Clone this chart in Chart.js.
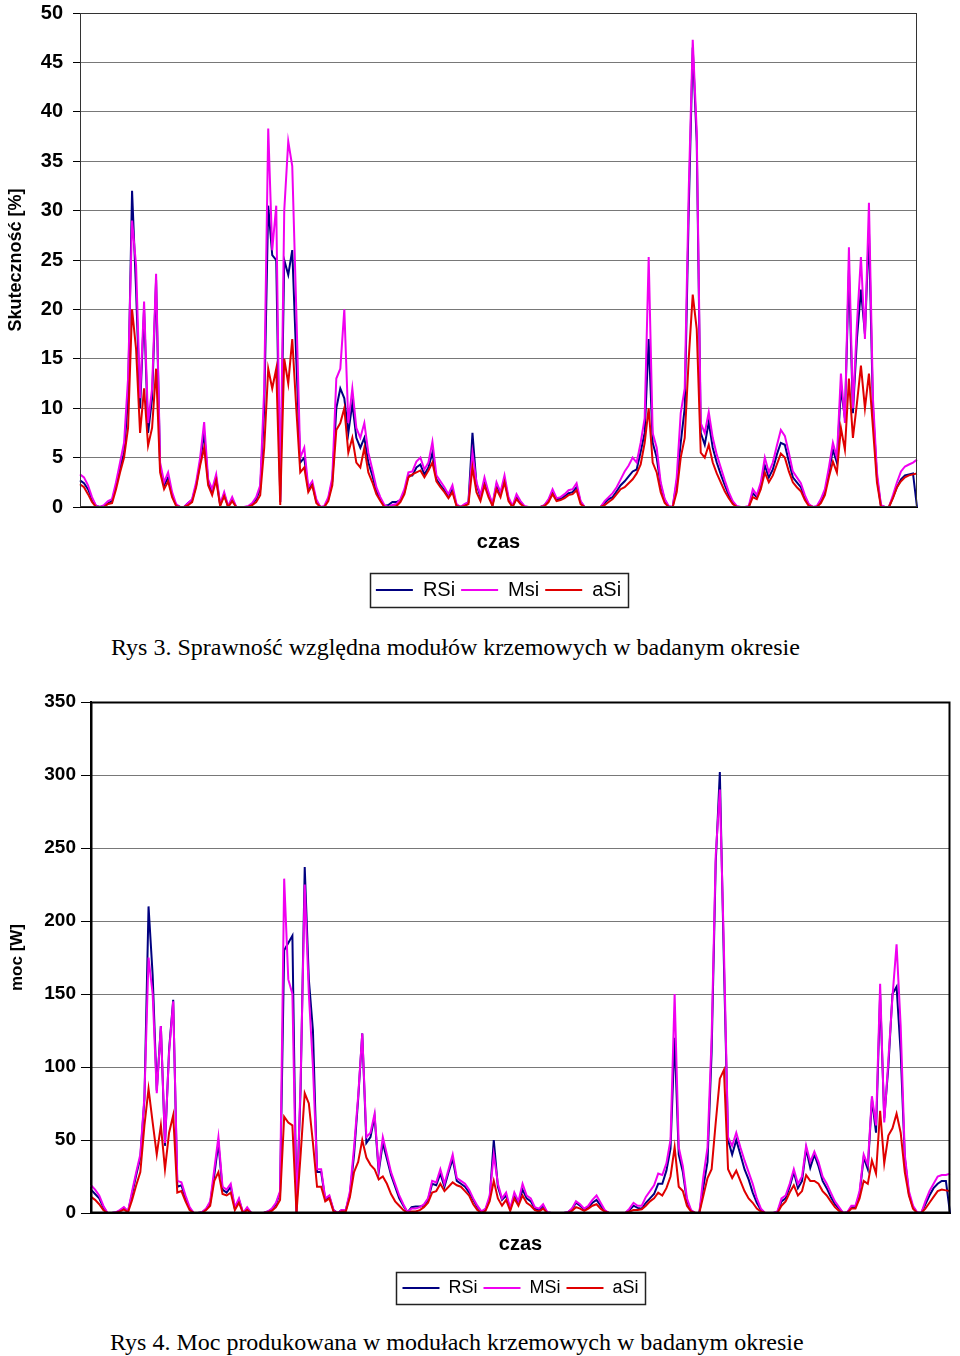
<!DOCTYPE html>
<html>
<head>
  <title>Rys 3 / Rys 4</title>
  <script src="https://cdn.jsdelivr.net/npm/chart.js"></script>
  <style>
    html, body { margin: 0; padding: 0; background: #fff; width: 960px; height: 1356px; overflow: hidden; }
    canvas { position: absolute; left: 0; }
    #c1 { top: 0; }
    #c2 { top: 680px; }
    .cap { position: absolute; font-family: "Liberation Serif", "Times New Roman", serif; font-size: 24px;
           line-height: 28px; color: #000; white-space: nowrap; }
  </style>
</head>
<body>

<canvas id="c1" width="960" height="610"></canvas>
<div class="cap" style="left:111px; top:633px;">Rys 3. Sprawność względna modułów krzemowych w badanym okresie</div>

<canvas id="c2" width="960" height="627"></canvas>
<div class="cap" style="left:110px; top:1328px;">Rys 4. Moc produkowana w modułach krzemowych w badanym okresie</div>

<script>
// Rys 3 - skutecznosc [%]
const topRSi = [2.7,2.4,1.8,0.8,0.1,0,0.1,0.4,0.6,2.2,
  4.0,5.5,11,32,22,10,20,7.5,11,23,
  4,2.2,3.0,1.2,0.2,0,0,0.4,0.7,2.2,
  4.5,7.5,2.5,1.5,3.0,0.2,1.3,0,0.8,0,
  0,0,0,0.3,0.8,1.8,10,30.5,25.5,25,
  0.5,25,23.5,26,15,4.5,5,1.8,2.3,0.6,
  0,0,0.8,2.6,10,12,11,7.5,10.5,7,
  6,7,4.5,3.2,1.6,0.8,0.1,0.2,0.5,0.5,
  0.7,1.5,3.2,3.2,4.0,4.3,3.3,4.0,5.5,2.8,
  2.2,1.7,1.0,1.8,0.2,0,0.2,0.5,7.5,2.3,
  1.0,2.6,1.3,0.2,2.2,1.3,2.8,0.8,0,1.0,
  0.5,0,0,0,0,0,0.2,0.7,1.5,0.8,
  0.8,1.1,1.4,1.5,2.0,0.5,0,0,0,0,
  0,0.4,0.8,1.0,1.6,2.2,2.6,3.1,3.6,3.8,
  5.6,7.5,17,6.5,5.0,2.2,0.7,0,0,2.5,
  6.5,10,30,46.5,37,7.5,6.3,8.6,6.0,4.5,
  3.3,2.2,1.2,0.5,0,0,0,0,1.4,1.0,
  2.2,4.2,3.0,3.8,5.3,6.5,6.3,4.6,3.0,2.5,
  2.0,1.0,0.2,0,0,0.6,1.5,3.5,5.8,4.5,
  12,9.0,24,9.5,17,22,17.5,28,10,3.0,
  0.1,0,0,1.0,2.0,2.8,3.2,3.3,3.4,0];

const topMsi = [3.3,3.0,2.2,1.0,0.1,0,0.2,0.6,0.8,2.5,
  4.5,6.5,13,29,24.5,11,20.8,8.5,12,23.6,
  4.5,2.5,3.5,1.5,0.3,0,0,0.4,0.8,2.5,
  5,8.6,2.8,1.8,3.3,0.3,1.5,0.1,1.0,0,
  0,0,0.1,0.4,1.0,2.2,12,38.3,26,30.5,
  0.5,30,37,34.5,20,5,6,2,2.6,0.8,
  0,0.1,1.0,3.0,13,14,20,8.5,12,8,
  7,8.5,5.5,3.8,2.0,1.0,0.2,0,0.2,0.3,
  0.8,1.8,3.5,3.6,4.6,5.0,3.8,4.5,6.6,3.2,
  2.6,2.0,1.3,2.2,0.3,0,0.3,0.5,5.5,2.5,
  1.2,3.0,1.5,0.3,2.5,1.5,3.2,1.0,0.1,1.3,
  0.6,0.1,0,0,0,0,0.2,0.8,1.8,0.9,
  1.0,1.3,1.7,1.8,2.4,0.6,0,0,0,0,
  0,0.6,1.0,1.4,2.0,2.8,3.6,4.2,5.0,4.5,
  6.5,9.0,25.3,7.5,6.0,2.5,0.8,0.1,0,3.0,
  9.5,12,32,47.3,38,8.5,7.5,9.6,7.0,5.3,
  4.0,2.7,1.5,0.6,0.1,0,0,0.1,1.8,1.2,
  2.5,5.0,3.5,4.5,6.2,7.8,7.2,5.5,3.6,3.0,
  2.4,1.2,0.3,0,0.1,0.8,1.8,4.0,6.5,5.0,
  13.5,8.5,26.3,10,18.5,25.3,17,30.8,11,3.5,
  0.2,0,0,1.2,2.5,3.6,4.1,4.3,4.5,4.8];

const topASi = [2.3,2.0,1.3,0.5,0,0,0,0.3,0.4,1.8,
  3.5,5.0,8,20,16,7.5,12,6.2,8,14,
  3.5,1.8,2.6,1.0,0.1,0,0,0.2,0.5,2.0,
  4.2,6,2.2,1.2,2.7,0.1,1.1,0,0.6,0,
  0,0,0,0.2,0.5,1.2,6,14,12,14,
  0.2,15,12.5,17,10,3.5,4,1.5,2.2,0.4,
  0,0,0.6,2.2,7.8,8.5,10,5.5,7,4.5,
  4,6,3.5,2.5,1.3,0.6,0,0,0,0.1,
  0.5,1.3,3.0,3.3,3.5,3.7,3.0,3.7,4.5,2.6,
  2.0,1.5,0.9,1.5,0.1,0,0.1,0.3,4,1.5,
  0.6,2.2,1.0,0.1,1.8,1.0,2.5,0.6,0,0.8,
  0.3,0,0,0,0,0,0.1,0.5,1.3,0.6,
  0.7,0.9,1.2,1.3,1.7,0.3,0,0,0,0,
  0,0.2,0.5,0.8,1.3,1.8,2.0,2.4,2.8,3.4,
  4.3,6.5,10,4.5,3.5,1.5,0.4,0,0,1.5,
  5,7,15,21.5,18,5.5,5,6.3,4.5,3.4,
  2.5,1.6,0.9,0.3,0,0,0,0,1.0,0.8,
  1.8,3.5,2.5,3.2,4.3,5.4,5.0,3.6,2.5,2.0,
  1.6,0.7,0.1,0,0,0.4,1.2,3.0,4.6,3.5,
  8,5.8,13,7,10.5,14.3,10,13.5,8,2.5,
  0,0,0,0.9,2.0,2.6,3.0,3.2,3.3,3.4];

// Rys 4 - moc [W]
const botRSi = [16,13,10,4,0,0,0.3,1.5,3.5,1,
  13,26,38,78,210,163,84,128,46,112,
  146,18,19,10,3,0,0,0.5,2.5,7,
  26,48,16,14,18,3,9,0,3,0,
  0,0,0,1,2.5,6,14,180,185,190,
  0,85,237,160,125,28,28,9,11,2,
  0,2,2,13,40,78,123,48,52,66,
  28,48,37,26,18,10,5,0.5,4,4.5,
  4.5,5,9,20,19,27,18,28,37,22,
  20,18,14,9,4,1,2.5,10,50,18,
  9,12,2.5,12,7,16,10,8,3,2,
  5,0.3,0,0,0,0,0.5,2.5,7,5,
  2.5,4,7,9,5,1.5,0,0,0,0,
  0,2,5,3.5,3,7,10,13,20,20,
  29,44,120,40,28,8,1.5,0,0,18,
  35,110,240,302,170,50,40,50,40,30,
  23,14,7,2,0,0,0,0.5,8,10,
  18,28,17,22,44,31,40,32,22,17,
  11,6,3,0,0.5,4,4,13,38,30,
  78,55,150,65,100,150,155,110,38,13,
  4,0.3,0,6,12,17,20,22,22,0];

const botMSi = [19,16,12,5,0,0,0.5,2,4,1,
  15,28,40,80,175,150,82,128,48,110,
  145,22,21,12,4,0,0,0.5,3,8,
  30,52,18,16,20,4,10,0,4,0,
  0,0,0,1,3,7,15,229,160,150,
  0,90,225,150,100,30,30,10,12,2,
  0,2,2,15,45,80,123,52,55,68,
  30,52,40,28,20,12,6,0.5,3,3,
  4,6,10,22,21,30,20,30,40,24,
  22,20,16,10,5,1,3,12,40,20,
  10,14,3,14,8,20,12,10,4,3,
  6,0.5,0,0,0,0,0.5,3,8,6,
  3,5,9,12,7,2,0,0,0,0,
  0,3,7,5,5,11,15,19,27,26,
  34,50,150,45,32,10,2,0,0,25,
  45,120,245,290,180,52,46,55,45,36,
  28,20,10,3,0,0,0,1,10,12,
  20,30,20,25,46,35,42,35,25,20,
  14,8,4,0,0.5,5,5,15,40,33,
  80,60,157,62,105,148,184,128,40,15,
  5,0.5,0,8,15,20,25,26,26,27];

const botASi = [11,9,6,2,0,0,0,1,2.5,0.5,
  9,19,28,60,85,62,40,60,30,55,
  67,14,15,8,2,0,0,0,2,5,
  22,28,13,12,14,2,7,0,2,0,
  0,0,0,0.5,1.5,4,9,66,62,60,
  0,40,82,75,48,18,18,8,10,1,
  0,1,1,11,28,35,50,38,33,30,
  23,25,20,13,8,5,2,0,1,1,
  2,4,7,14,15,20,15,18,21,19,
  18,15,12,6,2,0,1.5,8,22,10,
  5,9,1.5,10,5,12,7,5,2,1,
  3,0,0,0,0,0,0,1.5,4,3,
  1.5,3,5,6,3,1,0,0,0,0,
  0,1,2,2,2.5,5,8,10,14,12,
  17,25,45,18,15,5,1,0,0,12,
  24,30,62,92,98,30,24,29,22,15,
  10,7,3,1,0,0,0,0,5,8,
  14,19,12,15,26,22,22,20,15,12,
  8,4,1.5,0,0,3,3,10,22,20,
  36,27,70,34,53,58,68,55,28,12,
  3,0,0,3,7,11,15,16,15.5,15];

const czas = topRSi.map((v, i) => i + 1);

const colRSi = '#000080', colMSi = '#f000f0', colASi = '#e00000';

Chart.defaults.font.family = "'Liberation Sans', Arial, sans-serif";
Chart.defaults.color = '#000';

// ramka wykresu + ramka legendy
const frame = {
  id: 'frame',
  afterDraw(chart, args, opts) {
    const { ctx, chartArea: a, legend } = chart;
    ctx.save();
    ctx.strokeStyle = opts.color;
    ctx.lineWidth = opts.width;
    ctx.strokeRect(a.left + 0.5, a.top + 0.5, a.right - a.left - 1, a.bottom - a.top - 1);
    const hb = legend.legendHitBoxes;
    const l = Math.min(...hb.map(b => b.left)) - 6;
    const r = Math.max(...hb.map(b => b.left + b.width)) + 7;
    const t = Math.min(...hb.map(b => b.top)) - 7;
    const btm = Math.max(...hb.map(b => b.top + b.height)) + 7;
    ctx.lineWidth = 1.5;
    ctx.strokeStyle = '#222';
    ctx.strokeRect(Math.round(l) + 0.5, Math.round(t) + 0.5, Math.round(r - l), Math.round(btm - t));
    ctx.restore();
  }
};

function makeChart(id, cfg) {
  const ds = (label, data, color, order) => ({
    label, data, borderColor: color, backgroundColor: color,
    borderWidth: 2, pointRadius: 0, tension: 0, order
  });
  return new Chart(document.getElementById(id), {
    type: 'line',
    data: {
      labels: czas,
      datasets: [
        ds('RSi', cfg.rsi, colRSi, 3),
        ds(cfg.mLabel, cfg.msi, colMSi, 2),
        ds('aSi', cfg.asi, colASi, 1)
      ]
    },
    plugins: [frame],
    options: {
      responsive: false,
      animation: false,
      devicePixelRatio: 1,
      events: [],
      layout: { padding: cfg.padding },
      scales: {
        x: {
          ticks: { display: false },
          grid: { display: false },
          border: { color: '#000', width: cfg.axisWidth },
          title: { display: true, text: 'czas', font: { size: 20, weight: 'bold' },
                   padding: { top: 0, bottom: cfg.czasPad } },
          afterFit: s => { s.height = cfg.xHeight; }
        },
        y: {
          min: 0, max: cfg.max,
          ticks: { stepSize: cfg.step, padding: cfg.tickPad, font: { size: cfg.tickSize, weight: 'bold' } },
          grid: { color: '#787878', tickColor: '#000', tickLength: cfg.tickLen },
          border: { color: '#000', width: cfg.axisWidth },
          title: { display: true, text: cfg.yTitle, font: { size: cfg.yTitleSize, weight: 'bold' },
                   padding: { top: cfg.yTitlePad, bottom: 0 } },
          afterFit: s => { s.width = cfg.yWidth; s.paddingTop = 0; s.paddingBottom = 0; }
        }
      },
      plugins: {
        legend: {
          position: 'bottom',
          fullSize: false,
          labels: {
            usePointStyle: true, pointStyle: 'line', pointStyleWidth: 37,
            font: { size: cfg.legendSize }, padding: 6,
            sort: (a, b) => a.datasetIndex - b.datasetIndex
          }
        },
        tooltip: { enabled: false },
        frame: { color: cfg.frameColor, width: cfg.axisWidth }
      }
    }
  });
}

makeChart('c1', {
  rsi: topRSi, msi: topMsi, asi: topASi, mLabel: 'Msi',
  max: 50, step: 5, yTitle: 'Skuteczność [%]', yTitleSize: 18, yTitlePad: 5,
  padding: { top: 13, right: 43, left: 0, bottom: 0 },
  yWidth: 80, xHeight: 67, czasPad: 20, tickPad: 10, tickLen: 7, tickSize: 20,
  legendSize: 20, axisWidth: 1, frameColor: '#333'
});

makeChart('c2', {
  rsi: botRSi, msi: botMSi, asi: botASi, mLabel: 'MSi',
  max: 350, step: 50, yTitle: 'moc [W]', yTitleSize: 17, yTitlePad: 7,
  padding: { top: 22, right: 10, left: 0, bottom: 0 },
  yWidth: 91, xHeight: 60, czasPad: 17, tickPad: 5, tickLen: 10, tickSize: 19,
  legendSize: 18, axisWidth: 2, frameColor: '#000'
});
</script>
</body>
</html>
